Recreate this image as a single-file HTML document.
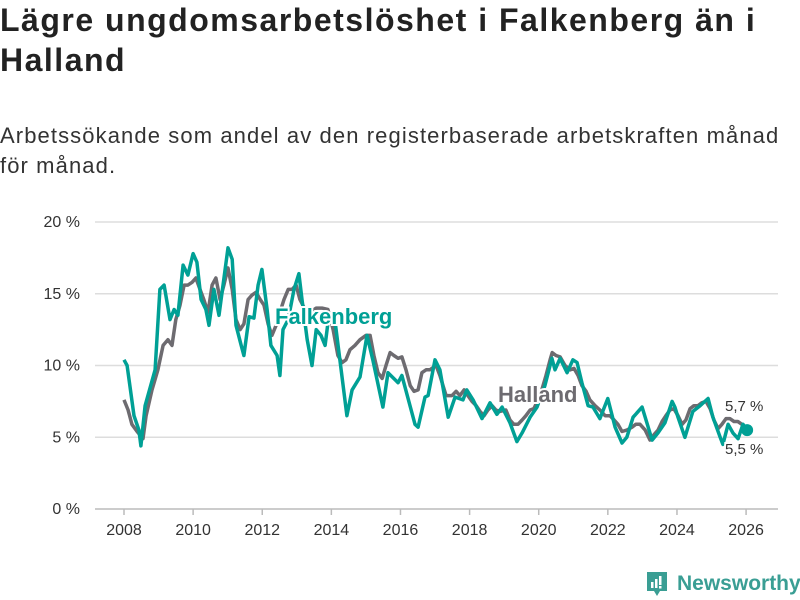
<!DOCTYPE html>
<html><head><meta charset="utf-8"><style>
body{margin:0;width:800px;height:600px;background:#fff;font-family:"Liberation Sans",sans-serif;overflow:hidden;position:relative}
h1{position:absolute;left:0;top:0;margin:0;font-size:32px;line-height:40px;font-weight:bold;color:#222;width:800px;letter-spacing:1.5px;white-space:nowrap}
.sub{position:absolute;left:0;top:121px;margin:0;font-size:22px;line-height:30px;color:#333;width:800px;letter-spacing:1.1px;white-space:nowrap}
svg{position:absolute;left:0;top:0}
</style></head><body>
<h1>Lägre ungdomsarbetslöshet i Falkenberg än i<br>Halland</h1>
<p class="sub">Arbetssökande som andel av den registerbaserade arbetskraften månad<br>för månad.</p>
<svg id="chart" width="800" height="600"></svg>
<div style="position:absolute;left:645px;top:570px;height:27px;display:flex;align-items:center">
<svg width="24" height="28" viewBox="0 0 24 28" style="position:static"><path d="M2 2h20v19h-7l-3 5-3-5H2z" fill="#3a9e94"/><rect x="6" y="12" width="2.5" height="6" fill="#fff"/><rect x="10" y="9" width="2.5" height="9" fill="#fff"/><rect x="14" y="6" width="2.5" height="9" fill="#fff"/><rect x="14" y="16" width="2.5" height="2.5" fill="#fff"/></svg>
<span style="margin-left:8px;font-size:21px;font-weight:bold;color:#3a9e94">Newsworthy</span></div>
<script>
const yTicks=[0,5,10,15,20];
const xTicks=[2008,2010,2012,2014,2016,2018,2020,2022,2024,2026];
const fYears=[2008.00,2008.09,2008.29,2008.43,2008.49,2008.61,2008.90,2009.04,2009.16,2009.33,2009.45,2009.56,2009.71,2009.85,2010.00,2010.11,2010.23,2010.37,2010.46,2010.60,2010.75,2011.01,2011.13,2011.24,2011.39,2011.47,2011.62,2011.76,2011.88,2011.99,2012.14,2012.25,2012.43,2012.51,2012.60,2012.75,2012.92,2013.06,2013.15,2013.30,2013.44,2013.56,2013.70,2013.82,2013.93,2014.11,2014.45,2014.60,2014.83,2015.03,2015.20,2015.49,2015.64,2015.93,2016.04,2016.42,2016.51,2016.71,2016.80,2017.00,2017.14,2017.38,2017.58,2017.81,2017.92,2018.10,2018.36,2018.59,2018.79,2018.94,2019.17,2019.37,2019.52,2019.75,2019.95,2020.18,2020.38,2020.47,2020.62,2020.82,2020.99,2021.11,2021.25,2021.43,2021.57,2021.77,2022.00,2022.21,2022.41,2022.55,2022.73,2022.99,2023.13,2023.28,2023.45,2023.65,2023.86,2023.94,2024.03,2024.23,2024.32,2024.46,2024.67,2024.90,2025.04,2025.25,2025.33,2025.48,2025.62,2025.77,2025.91,2026.03];
const fValues=[10.4,10.0,6.5,5.5,4.4,7.2,9.7,15.3,15.6,13.2,13.9,13.5,17.0,16.3,17.8,17.2,14.6,13.9,12.8,15.3,13.5,18.2,17.4,12.8,11.4,10.7,13.4,13.3,15.6,16.7,13.9,11.4,10.7,9.3,12.5,13.2,15.3,16.4,14.6,11.8,10.0,12.5,12.1,11.4,13.5,13.0,6.5,8.3,9.2,12.1,10.4,7.1,9.5,8.8,9.3,5.9,5.7,7.8,7.9,10.4,9.7,6.4,7.8,7.6,8.3,7.6,6.3,7.4,6.6,7.1,6.0,4.7,5.3,6.4,7.1,8.6,10.5,9.7,10.5,9.5,10.4,10.2,8.8,7.2,7.1,6.3,7.7,5.7,4.6,5.0,6.4,7.1,6.0,4.8,5.3,6.0,7.5,7.1,6.4,5.0,5.7,6.8,7.2,7.7,6.4,5.0,4.5,5.9,5.3,4.9,5.9,5.5];
const hYears=[2008.00,2008.12,2008.23,2008.38,2008.55,2008.64,2008.81,2008.98,2009.13,2009.27,2009.39,2009.50,2009.62,2009.74,2009.85,2009.97,2010.08,2010.20,2010.31,2010.43,2010.55,2010.66,2010.78,2010.89,2011.01,2011.13,2011.24,2011.36,2011.47,2011.59,2011.70,2011.82,2011.94,2012.05,2012.17,2012.28,2012.40,2012.51,2012.63,2012.75,2012.86,2012.98,2013.09,2013.24,2013.38,2013.56,2013.73,2013.90,2014.05,2014.19,2014.31,2014.42,2014.54,2014.68,2014.83,2015.00,2015.12,2015.23,2015.35,2015.47,2015.58,2015.70,2015.81,2015.93,2016.04,2016.16,2016.28,2016.39,2016.51,2016.62,2016.74,2016.85,2017.03,2017.14,2017.32,2017.49,2017.61,2017.72,2017.84,2017.95,2018.07,2018.19,2018.30,2018.42,2018.53,2018.65,2018.76,2018.88,2019.05,2019.17,2019.28,2019.40,2019.52,2019.63,2019.75,2019.86,2019.98,2020.09,2020.21,2020.33,2020.39,2020.50,2020.62,2020.76,2020.91,2021.02,2021.14,2021.25,2021.37,2021.48,2021.63,2021.77,2021.92,2022.06,2022.18,2022.29,2022.41,2022.55,2022.70,2022.81,2022.93,2023.08,2023.22,2023.34,2023.45,2023.57,2023.68,2023.80,2023.91,2024.03,2024.15,2024.26,2024.38,2024.49,2024.61,2024.72,2024.84,2024.96,2025.07,2025.19,2025.30,2025.42,2025.53,2025.65,2025.76,2025.88,2026.00];
const hValues=[7.6,6.9,5.9,5.4,4.9,6.5,8.3,9.7,11.4,11.8,11.4,13.2,14.2,15.6,15.6,15.8,16.1,15.3,14.6,13.7,15.6,16.1,14.6,15.6,16.8,15.3,13.2,12.5,12.9,14.6,14.9,15.1,14.6,14.2,12.9,12.1,12.8,13.7,14.6,15.3,15.3,15.6,14.6,13.9,13.7,14.0,14.0,13.9,12.5,10.7,10.2,10.4,11.1,11.4,11.8,12.1,12.1,10.7,9.5,9.1,10.0,10.9,10.7,10.5,10.6,9.7,8.6,8.2,8.3,9.5,9.7,9.7,10.0,9.3,7.9,7.9,8.2,7.9,8.3,7.9,7.5,7.2,6.8,6.5,6.9,7.2,6.9,6.8,6.9,6.2,5.9,5.9,6.2,6.5,6.9,7.0,7.6,8.3,9.3,10.4,10.9,10.7,10.6,10.0,9.7,9.8,9.3,8.6,8.2,7.6,7.2,6.9,6.5,6.5,6.2,5.9,5.4,5.5,5.7,5.9,5.9,5.5,4.8,5.2,5.5,6.1,6.5,6.9,7.0,6.5,5.9,6.2,7.0,7.2,7.2,7.4,7.5,7.0,6.2,5.6,5.9,6.3,6.3,6.1,6.1,5.9,5.7];
const NS='http://www.w3.org/2000/svg';
const svg=document.getElementById('chart');
const X=y=>124+(y-2008)*34.56;
const Y=v=>509-v*14.35;
function el(t,a,p){const e=document.createElementNS(NS,t);for(const k in a)e.setAttribute(k,a[k]);(p||svg).appendChild(e);return e;}
yTicks.forEach(t=>{
  const g=el('line',{x1:95,x2:778,y1:Y(t),y2:Y(t),stroke:t===0?'#bbb':'#ddd','stroke-width':1.5});
  
  
  const tx=el('text',{x:80,y:Y(t)+5,'text-anchor':'end','font-size':16,fill:'#333','font-family':'Liberation Sans, sans-serif'});
  tx.textContent=t+' %';
  
  
});
xTicks.forEach(t=>{
  const l=el('line',{x1:X(t),x2:X(t),y1:509,y2:515,stroke:'#bbb','stroke-width':1.5});
  
  
  const tx=el('text',{x:X(t),y:535,'text-anchor':'middle','font-size':16,fill:'#333','font-family':'Liberation Sans, sans-serif'});
  tx.textContent=t;
  
  
});
function pts(xs,vs){return xs.map((x,i)=>X(x).toFixed(1)+','+Y(vs[i]).toFixed(1)).join(' ');}
const hl=el('polyline',{points:pts(hYears,hValues),fill:'none',stroke:'#6d6b70','stroke-width':3.5,'stroke-linejoin':'round'});


const fl=el('polyline',{points:pts(fYears,fValues),fill:'none',stroke:'#00a095','stroke-width':3.5,'stroke-linejoin':'round'});


const dot=el('circle',{cx:X(fYears[fYears.length-1]),cy:Y(fValues[fValues.length-1]),r:6,fill:'#00a095'});


function lab(x,y,txt,c,name,sz,bold){
  const t=el('text',{x:x,y:y,'font-size':sz,'font-weight':bold?'bold':'normal',fill:c,stroke:'#fff','stroke-width':4,'paint-order':'stroke','font-family':'Liberation Sans, sans-serif'});
  t.textContent=txt;
  
  
}
lab(275,324,'Falkenberg','#00a095','falkenberg-label',22,true);
lab(498,402,'Halland','#6d6b70','halland-label',22,true);
lab(725,411,'5,7 %','#333','halland-end-value',15,false);
lab(725,454,'5,5 %','#333','falkenberg-end-value',15,false);
</script>
</body></html>
